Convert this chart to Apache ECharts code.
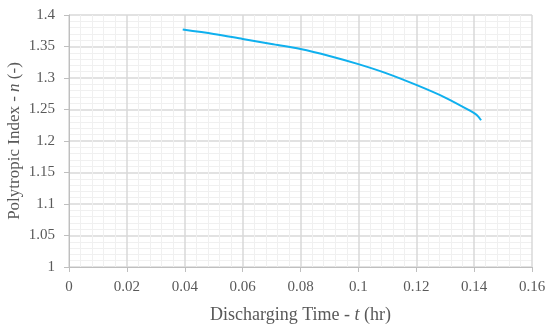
<!DOCTYPE html>
<html><head><meta charset="utf-8">
<script src="https://cdn.jsdelivr.net/npm/echarts@6/dist/echarts.min.js"></script>
<style>html,body{margin:0;padding:0;background:#fff}#c{width:550px;height:329px}</style>
</head><body><div id="c"></div>
<script>
const timeHr = [0.0393, 0.05, 0.06, 0.07, 0.08, 0.09, 0.10, 0.11, 0.12, 0.13, 0.139, 0.141, 0.1424];
const polyIndex = [1.377, 1.370, 1.362, 1.354, 1.346, 1.335, 1.322, 1.307, 1.289, 1.269, 1.247, 1.241, 1.233];
const xTicks = {min: 0, max: 0.16, interval: 0.02};
const yTicks = {min: 1, max: 1.4, interval: 0.05};

const font = '"Liberation Serif", serif';
const txt = '#595959';
const chart = echarts.init(document.getElementById('c'), null, {renderer: 'canvas'});
chart.setOption({
  animation: false,
  grid: {left: 69, right: 18, top: 15, bottom: 62, containLabel: false, outerBoundsMode: 'none'},
  xAxis: {
    type: 'value', min: xTicks.min, max: xTicks.max, interval: xTicks.interval,
    axisLine: {show: true, onZero: false, lineStyle: {color: '#bfbfbf', width: 1}},
    axisTick: {show: true, length: 5, lineStyle: {color: '#bfbfbf'}},
    axisLabel: {color: txt, fontFamily: font, fontSize: 15, margin: 13,
      formatter: v => String(parseFloat(v.toFixed(2)))},
    splitLine: {show: true, lineStyle: {color: '#d9d9d9', width: 1.5}},
    minorTick: {show: false, splitNumber: 5},
    minorSplitLine: {show: true, lineStyle: {color: '#f0f0f0', width: 1}},
    name: '{a|Discharging Time - }{i|t}{a| (hr)}',
    nameLocation: 'middle', nameGap: 39,
    nameTextStyle: {rich: {
      a: {color: txt, fontFamily: font, fontSize: 18},
      i: {color: txt, fontFamily: font, fontSize: 18, fontStyle: 'italic'}
    }}
  },
  yAxis: {
    type: 'value', min: yTicks.min, max: yTicks.max, interval: yTicks.interval,
    axisLine: {show: true, lineStyle: {color: '#bfbfbf', width: 1}},
    axisTick: {show: true, length: 5, lineStyle: {color: '#bfbfbf'}},
    axisLabel: {color: txt, fontFamily: font, fontSize: 15, margin: 14,
      formatter: v => String(parseFloat(v.toFixed(2)))},
    splitLine: {show: true, lineStyle: {color: '#d9d9d9', width: 1.5}},
    minorTick: {show: false, splitNumber: 5},
    minorSplitLine: {show: true, lineStyle: {color: '#f0f0f0', width: 1}},
    name: '{a|Polytropic Index - }{i|n}{a| (-)}',
    nameLocation: 'middle', nameGap: 46, nameRotate: 90, nameMoveOverlap: false,
    nameTextStyle: {rich: {
      a: {color: txt, fontFamily: font, fontSize: 17},
      i: {color: txt, fontFamily: font, fontSize: 17, fontStyle: 'italic'}
    }}
  },
  series: [{
    type: 'line', data: timeHr.map((t, i) => [t, polyIndex[i]]),
    smooth: 0.3, showSymbol: false,
    lineStyle: {color: '#0fb0ee', width: 2}
  }]
});
</script></body></html>
